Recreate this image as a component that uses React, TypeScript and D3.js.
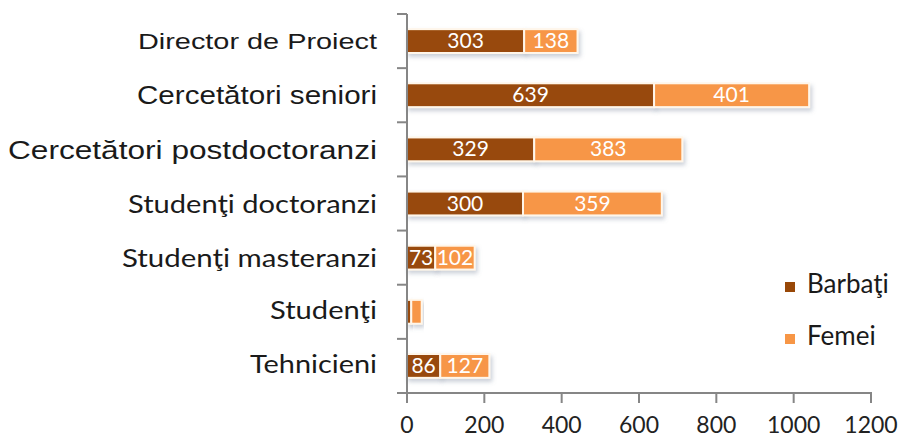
import React from "react";
import * as d3 from "d3";

const categories = [
  "Director de Proiect",
  "Cercetători seniori",
  "Cercetători postdoctoranzi",
  "Studenţi doctoranzi",
  "Studenţi masteranzi",
  "Studenţi",
  "Tehnicieni",
];
const barbati = [303, 639, 329, 300, 73, 11, 86];
const femei = [138, 401, 383, 359, 102, 27, 127];
const showLabels = [true, true, true, true, true, false, true];
const xTicks = [0, 200, 400, 600, 800, 1000, 1200];
const seriesNames = ["Barbaţi", "Femei"];

// label styling (visual only)
const labelStyle = [
  { font: "'Liberation Sans', Arial, sans-serif", size: 22, len: 239, dy: 8 },
  { font: "'Liberation Sans', Arial, sans-serif", size: 25, len: 240, dy: 9 },
  { font: "'Liberation Sans', Arial, sans-serif", size: 26, len: 369, dy: 10 },
  { font: "Lato, 'Open Sans', sans-serif", size: 25, len: 249, dy: 9 },
  { font: "Lato, 'Open Sans', sans-serif", size: 25, len: 255, dy: 9 },
  { font: "Lato, 'Open Sans', sans-serif", size: 25, len: 107, dy: 7 },
  { font: "Lato, 'Open Sans', sans-serif", size: 25, len: 127, dy: 7 },
];

const DARK = "#984807";
const LIGHT = "#F79646";
const AXIS = "#868686";

export default function App() {
  const W = 918;
  const H = 438;
  const x = d3.scaleLinear().domain([0, 1200]).range([407, 871]);
  const y = d3.scaleBand().domain(categories).range([14, 393]).paddingInner(0.56).paddingOuter(0.28);
  const yb = d3.scaleBand().domain(categories).range([14, 393]);
  const bh = y.bandwidth();

  return (
    <svg width={W} height={H} style={{ position: "absolute", left: 0, top: 0, background: "#fff" }}>
      <defs>
        <filter id="sh" x="-10%" y="-30%" width="130%" height="190%">
          <feDropShadow dx="2" dy="3" stdDeviation="2" floodColor="#6a7890" floodOpacity="0.35" />
        </filter>
      </defs>
      {/* bars */}
      {categories.map((c, i) => {
        const yy = y(c)!;
        const b0 = x(0), b1 = x(barbati[i]), f1 = x(barbati[i] + femei[i]);
        return (
          <g key={c}>
            <rect x={b0} y={yy} width={b1 - b0} height={bh} fill={DARK} stroke="#fff6ea" strokeWidth={2} filter="url(#sh)" />
            <rect x={b1} y={yy} width={f1 - b1} height={bh} fill={LIGHT} stroke="#fff6ea" strokeWidth={2} filter="url(#sh)" />
            {showLabels[i] && (
              <>
                <text x={(b0 + b1) / 2} y={yy + bh / 2 + 7} textAnchor="middle" fill="#fff"
                  fontFamily="Lato, 'Open Sans', sans-serif" fontSize={21}>{barbati[i]}</text>
                <text x={(b1 + f1) / 2} y={yy + bh / 2 + 7} textAnchor="middle" fill="#fff"
                  fontFamily="Lato, 'Open Sans', sans-serif" fontSize={21}>{femei[i]}</text>
              </>
            )}
          </g>
        );
      })}
      {/* y axis */}
      <line x1={407} x2={407} y1={14} y2={393} stroke={AXIS} strokeWidth={2} />
      {categories.map((c) => (
        <line key={"t" + c} x1={397} x2={407} y1={yb(c)!} y2={yb(c)!} stroke={AXIS} strokeWidth={2} />
      ))}
      {/* x axis */}
      <line x1={397} x2={872} y1={393} y2={393} stroke={AXIS} strokeWidth={2} />
      {xTicks.map((t) => (
        <g key={"x" + t}>
          <line x1={x(t)} x2={x(t)} y1={393} y2={403} stroke={AXIS} strokeWidth={2} />
          <text x={x(t)} y={433} textAnchor="middle" fill="#222" fontFamily="Lato, 'Open Sans', sans-serif" fontSize={23}>{t}</text>
        </g>
      ))}
      {/* category labels */}
      {categories.map((c, i) => {
        const s = labelStyle[i];
        const cy = yb(c)! + yb.bandwidth() / 2;
        return (
          <text key={"l" + c} x={377} y={cy + s.dy} textAnchor="end" fill="#1a1a1a" fontFamily={s.font}
            fontSize={s.size} textLength={s.len} lengthAdjust="spacingAndGlyphs">{c}</text>
        );
      })}
      {/* legend */}
      {seriesNames.map((n, i) => (
        <g key={n} transform={`translate(785, ${282 + i * 52})`}>
          <rect x={0} y={0} width={10} height={10} fill={i === 0 ? DARK : LIGHT} />
          <text x={22} y={11} fill="#1a1a1a" fontFamily="Lato, 'Open Sans', sans-serif" fontSize={26}>{n}</text>
        </g>
      ))}
    </svg>
  );
}
